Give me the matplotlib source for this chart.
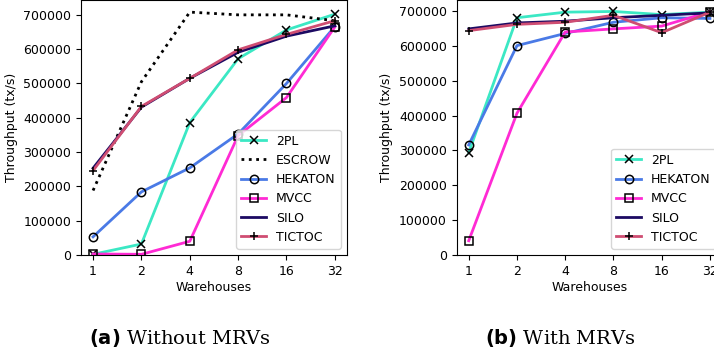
import matplotlib
matplotlib.use('Agg')
import matplotlib.pyplot as plt

warehouses = ['1', '2', '4', '8', '16', '32']

# (a) sin MRVs
a_2pl = [2000, 32000, 386000, 572000, 656000, 702000]
a_escrow = [188000, 505000, 708000, 700000, 700000, 683000]
a_hekaton = [53000, 184000, 254000, 353000, 500000, 666000]
a_mvcc = [3000, 2000, 40000, 348000, 459000, 665000]
a_silo = [253000, 431000, 515000, 591000, 638000, 668000]
a_tictoc = [246000, 433000, 515000, 598000, 643000, 683000]

# (b) con MRVs
b_2pl = [294000, 681000, 697000, 699000, 690000, 697000]
b_hekaton = [316000, 601000, 636000, 668000, 681000, 679000]
b_mvcc = [41000, 407000, 640000, 649000, 657000, 698000]
b_silo = [649000, 666000, 671000, 681000, 688000, 695000]
b_tictoc = [644000, 662000, 668000, 688000, 638000, 697000]

c_2pl = '#3be8c4'
c_hekaton = '#4a7ae6'
c_mvcc = '#ff2ad4'
c_silo = '#1c0a62'
c_tictoc = '#cf4d72'

plt.rcParams['font.size'] = 9

fig = plt.figure(figsize=(7.14, 3.58), dpi=100)
ax1 = fig.add_axes([0.1134, 0.2877, 0.3725, 0.7123])
ax2 = fig.add_axes([0.6396, 0.2877, 0.3716, 0.7123])

x = range(len(warehouses))
mk = dict(mec='black', mfc='none', ms=6, mew=1.1, lw=2)

ax1.plot(x, a_2pl, color=c_2pl, marker='x', label='2PL', **mk)
ax1.plot(x, a_escrow, color='black', ls=':', lw=2, label='ESCROW')
ax1.plot(x, a_hekaton, color=c_hekaton, marker='o', label='HEKATON', **mk)
ax1.plot(x, a_mvcc, color=c_mvcc, marker='s', label='MVCC', **mk)
ax1.plot(x, a_silo, color=c_silo, lw=2, label='SILO')
ax1.plot(x, a_tictoc, color=c_tictoc, marker='+', label='TICTOC', **mk)

ax2.plot(x, b_2pl, color=c_2pl, marker='x', label='2PL', **mk)
ax2.plot(x, b_hekaton, color=c_hekaton, marker='o', label='HEKATON', **mk)
ax2.plot(x, b_mvcc, color=c_mvcc, marker='s', label='MVCC', **mk)
ax2.plot(x, b_silo, color=c_silo, lw=2, label='SILO')
ax2.plot(x, b_tictoc, color=c_tictoc, marker='+', label='TICTOC', **mk)

for ax in (ax1, ax2):
    ax.set_xticks(list(x))
    ax.set_xticklabels(warehouses)
    ax.set_ylim(bottom=0)
    ax.set_xlabel('Warehouses', labelpad=2)
    ax.set_ylabel('Throughput (tx/s)')
    ax.legend(loc='lower right')

fig.text(0.252, 0.04, r'$\mathbf{(a)}$ Without MRVs', ha='center', fontsize=14,
         family='DejaVu Serif')
fig.text(0.785, 0.04, r'$\mathbf{(b)}$ With MRVs', ha='center', fontsize=14,
         family='DejaVu Serif')

fig.savefig('out.png', dpi=100)
